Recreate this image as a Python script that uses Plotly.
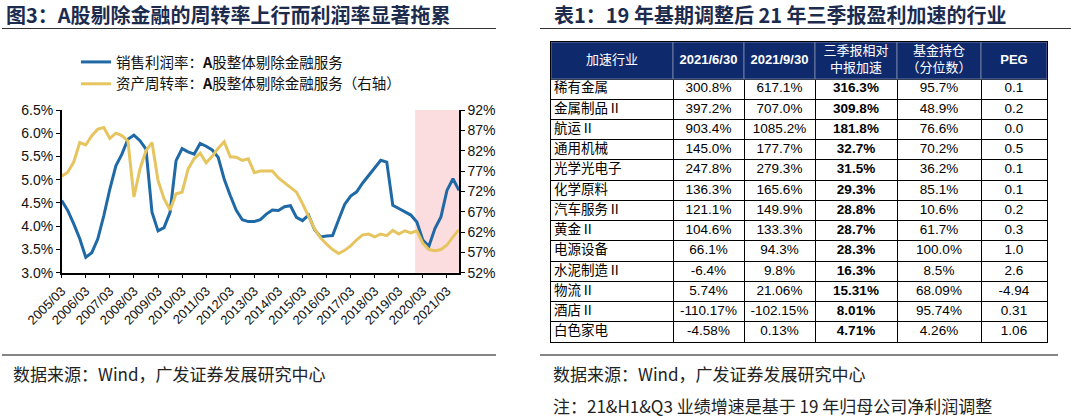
import plotly.graph_objects as go

W, H = 1071, 419

# ---------------- chart data ----------------
quarters = [f"{y}/{m:02d}" for y in range(2005, 2022) for m in (3, 6, 9, 12)][:67]
tick_labels = ["2005/03", "2006/03", "2007/03", "2008/03", "2009/03", "2010/03", "2011/03",
               "2012/03", "2013/03", "2014/03", "2015/03", "2016/03", "2017/03", "2018/03",
               "2019/03", "2020/03", "2021/03"]

profit_margin = [4.55, 4.34, 4.05, 3.73, 3.33, 3.43, 3.73, 4.23, 4.80, 5.30, 5.55, 5.87, 5.96, 5.84,
                 5.66, 4.30, 3.90, 3.97, 4.30, 5.41, 5.67, 5.60, 5.55, 5.78, 5.72, 5.64, 5.48, 5.01,
                 4.66, 4.34, 4.14, 4.10, 4.10, 4.14, 4.26, 4.35, 4.34, 4.42, 4.44, 4.19, 4.12, 4.24,
                 3.93, 3.77, 3.79, 3.80, 4.14, 4.47, 4.65, 4.74, 4.93, 5.09, 5.24, 5.42, 5.38, 4.45,
                 4.38, 4.31, 4.24, 4.09, 3.70, 3.57, 3.95, 4.20, 4.77, 5.02, 4.77]

asset_turnover = [75.7, 76.7, 79.2, 84.0, 83.4, 85.7, 87.3, 87.7, 85.0, 86.3, 85.7, 84.4, 70.6, 77.5,
                  82.0, 84.0, 74.7, 70.2, 67.4, 71.4, 71.8, 77.5, 80.0, 81.4, 79.0, 80.6, 82.6, 84.2,
                  80.5, 80.4, 79.6, 80.0, 76.6, 77.0, 77.0, 77.0, 75.3, 74.1, 73.1, 71.8, 69.0, 65.9,
                  62.8, 60.6, 59.0, 57.7, 56.7, 57.5, 58.6, 60.1, 61.3, 61.5, 60.8, 61.5, 61.1, 62.4,
                  61.5, 62.3, 61.8, 62.3, 59.2, 57.7, 57.4, 57.7, 58.8, 60.8, 62.6]

left_ticks = [3.0, 3.5, 4.0, 4.5, 5.0, 5.5, 6.0, 6.5]
right_ticks = [52, 57, 62, 67, 72, 77, 82, 87, 92]

# ---------------- table data ----------------
industries = ["稀有金属", "金属制品Ⅱ", "航运Ⅱ", "通用机械", "光学光电子", "化学原料", "汽车服务Ⅱ",
              "黄金Ⅱ", "电源设备", "水泥制造Ⅱ", "物流Ⅱ", "酒店Ⅱ", "白色家电"]
h1_growth = ["300.8%", "397.2%", "903.4%", "145.0%", "247.8%", "136.3%", "121.1%", "104.6%",
             "66.1%", "-6.4%", "5.74%", "-110.17%", "-4.58%"]
q3_growth = ["617.1%", "707.0%", "1085.2%", "177.7%", "279.3%", "165.6%", "149.9%", "133.3%",
             "94.3%", "9.8%", "21.06%", "-102.15%", "0.13%"]
acceleration = ["316.3%", "309.8%", "181.8%", "32.7%", "31.5%", "29.3%", "28.8%", "28.7%",
                "28.3%", "16.3%", "15.31%", "8.01%", "4.71%"]
fund_pct = ["95.7%", "48.9%", "76.6%", "70.2%", "36.2%", "85.1%", "10.6%", "61.7%", "100.0%",
            "8.5%", "68.09%", "95.74%", "4.26%"]
peg = ["0.1", "0.2", "0.0", "0.5", "0.1", "0.1", "0.2", "0.3", "1.0", "2.6", "-4.94", "0.31", "1.06"]
headers = ["加速行业", "<b>2021/6/30</b>", "<b>2021/9/30</b>", "三季报相对<br>中报加速",
           "基金持仓<br>（分位数）", "<b>PEG</b>"]

# ---------------- style ----------------
BLUE = "#1F69A6"
YELLOW = "#E6C560"
NAVY = "#1C2B4E"
HEAD_BG = "#0F2A6C"
CJK = "Noto Sans CJK SC"
ARIAL = "Liberation Sans, Arial"
col_widths = [122, 71, 71, 82, 84, 66]
header_h = 37
row_h = 20.23


def fx(p):
    return p / W


def fy(p):
    return 1 - p / H


fig = go.Figure()

# ---------------- line chart ----------------
fig.add_trace(go.Scatter(x=quarters, y=profit_margin, mode="lines",
                         name="销售利润率：<b>A</b>股整体剔除金融服务",
                         line=dict(color=BLUE, width=3), yaxis="y", xaxis="x"))
fig.add_trace(go.Scatter(x=quarters, y=asset_turnover, mode="lines",
                         name="资产周转率：<b>A</b>股整体剔除金融服务（右轴）",
                         line=dict(color=YELLOW, width=3), yaxis="y2", xaxis="x"))

# ---------------- table (drawn on its own axes) ----------------
bounds = [0]
for w in col_widths:
    bounds.append(bounds[-1] + w)
centers = [(bounds[i] + bounds[i + 1]) / 2 for i in range(len(col_widths))]
n_rows = len(industries)
row_bounds = [0, header_h] + [header_h + row_h * (k + 1) for k in range(n_rows)]
row_centers = [header_h + row_h * (k + 0.5) for k in range(n_rows)]
total_h = row_bounds[-1]

fig.add_trace(go.Bar(x=centers, y=[header_h] * len(centers), base=0, width=col_widths,
                     marker=dict(color=HEAD_BG, line=dict(color="#6C7DA3", width=1)),
                     xaxis="x3", yaxis="y3", showlegend=False, hoverinfo="skip"))

fig.add_trace(go.Scatter(x=centers, y=[header_h / 2] * len(centers), text=headers, mode="text",
                         textposition="middle center",
                         textfont=dict(color="white", size=13,
                                       family=[CJK, ARIAL, ARIAL, CJK, CJK, ARIAL]),
                         xaxis="x3", yaxis="y3", showlegend=False, hoverinfo="skip"))

fig.add_trace(go.Scatter(x=[bounds[0] + 3] * n_rows, y=row_centers, text=industries, mode="text",
                         textposition="middle right",
                         textfont=dict(color="black", size=13.5, family=CJK),
                         xaxis="x3", yaxis="y3", showlegend=False, hoverinfo="skip"))

num_cols = [h1_growth, q3_growth, [f"<b>{v}</b>" for v in acceleration], fund_pct, peg]
for ci, col in enumerate(num_cols, start=1):
    fig.add_trace(go.Scatter(x=[centers[ci]] * n_rows, y=row_centers, text=col, mode="text",
                             textposition="middle center",
                             textfont=dict(color="black", size=13.5, family=ARIAL),
                             xaxis="x3", yaxis="y3", showlegend=False, hoverinfo="skip"))

axis_font = dict(family=ARIAL, size=14, color="#111")

fig.update_layout(
    width=W, height=H, margin=dict(l=0, r=0, t=0, b=0, autoexpand=False),
    paper_bgcolor="white", plot_bgcolor="rgba(0,0,0,0)",
    showlegend=True, barmode="overlay",
    legend=dict(x=fx(76), y=fy(46), xanchor="left", yanchor="top",
                font=dict(family=CJK, size=14.5, color="#111"),
                bgcolor="rgba(0,0,0,0)", tracegroupgap=0, itemwidth=30),
    xaxis=dict(domain=[fx(61.7), fx(459)], type="category", range=[0, 66],
               tickmode="array", tickvals=tick_labels, ticktext=tick_labels, tickangle=-45,
               ticks="outside", ticklen=4, tickcolor="black", showline=True, linecolor="black",
               linewidth=1.5, showgrid=False, zeroline=False, automargin=False,
               tickfont=dict(family=ARIAL, size=13, color="#111")),
    yaxis=dict(domain=[fy(272.7), fy(110)], range=[3.0, 6.5], tickvals=left_ticks,
               ticktext=[f"{v:.1f}%" for v in left_ticks], ticks="outside", ticklen=4,
               tickcolor="black", showline=True, linecolor="black", linewidth=1.5,
               showgrid=False, zeroline=False, automargin=False, tickfont=axis_font),
    yaxis2=dict(domain=[fy(272.7), fy(110)], range=[52, 92], tickvals=right_ticks,
                ticktext=[f"{v}%" for v in right_ticks], overlaying="y", side="right",
                anchor="x", ticks="outside", ticklen=4, tickcolor="black", showline=True,
                linecolor="black", linewidth=1.5, showgrid=False, zeroline=False,
                automargin=False, tickfont=axis_font),
    xaxis3=dict(domain=[fx(551), fx(1047)], range=[0, bounds[-1]], anchor="y3",
                tickmode="array", tickvals=bounds, showticklabels=False, ticks="",
                showgrid=True, gridcolor="black", gridwidth=1, zeroline=False,
                showline=True, mirror=True, linecolor="black", linewidth=1,
                automargin=False, fixedrange=True),
    yaxis3=dict(domain=[fy(342), fy(42)], range=[total_h, 0], anchor="x3",
                tickmode="array", tickvals=row_bounds, showticklabels=False, ticks="",
                showgrid=True, gridcolor="black", gridwidth=1, zeroline=False,
                showline=True, mirror=True, linecolor="black", linewidth=1,
                automargin=False, fixedrange=True),
)

shapes = [
    # shaded period
    dict(type="rect", xref="x", yref="paper", x0=58.7, x1=66, y0=fy(272.7), y1=fy(110),
         fillcolor="#FCDDDF", line=dict(width=0), layer="below"),
    # lines under titles
    dict(type="line", xref="paper", yref="paper", x0=fx(2), x1=fx(496), y0=fy(28.5), y1=fy(28.5),
         line=dict(color="#333", width=1)),
    dict(type="line", xref="paper", yref="paper", x0=fx(540), x1=fx(1071), y0=fy(28.5), y1=fy(28.5),
         line=dict(color="#333", width=1)),
    # bottom grey rules
    dict(type="line", xref="paper", yref="paper", x0=fx(2), x1=fx(496), y0=fy(355), y1=fy(355),
         line=dict(color="#858585", width=2)),
    dict(type="line", xref="paper", yref="paper", x0=fx(540), x1=fx(1058), y0=fy(355), y1=fy(355),
         line=dict(color="#858585", width=2)),
]
fig.update_layout(shapes=shapes)

annotations = [
    dict(text="<b>图3：A股剔除金融的周转率上行而利润率显著拖累</b>", x=fx(4), y=fy(14),
         font=dict(family=CJK, size=20, color=NAVY)),
    dict(text="<b>表1：19 年基期调整后 21 年三季报盈利加速的行业</b>", x=fx(552), y=fy(14),
         font=dict(family=CJK, size=20, color=NAVY)),
    dict(text="数据来源：Wind，广发证券发展研究中心", x=fx(11), y=fy(373),
         font=dict(family=CJK, size=17, color="#222")),
    dict(text="数据来源：Wind，广发证券发展研究中心", x=fx(551), y=fy(373),
         font=dict(family=CJK, size=17, color="#222")),
    dict(text="注：21&H1&Q3 业绩增速是基于 19 年归母公司净利润调整", x=fx(551), y=fy(405),
         font=dict(family=CJK, size=17, color="#222")),
]
for a in annotations:
    a.update(xref="paper", yref="paper", xanchor="left", yanchor="middle", showarrow=False)
fig.update_layout(annotations=annotations)

fig.write_html("out.html", config={"displayModeBar": False},
               post_script="document.body.style.margin='0';document.body.style.overflow='hidden';")
